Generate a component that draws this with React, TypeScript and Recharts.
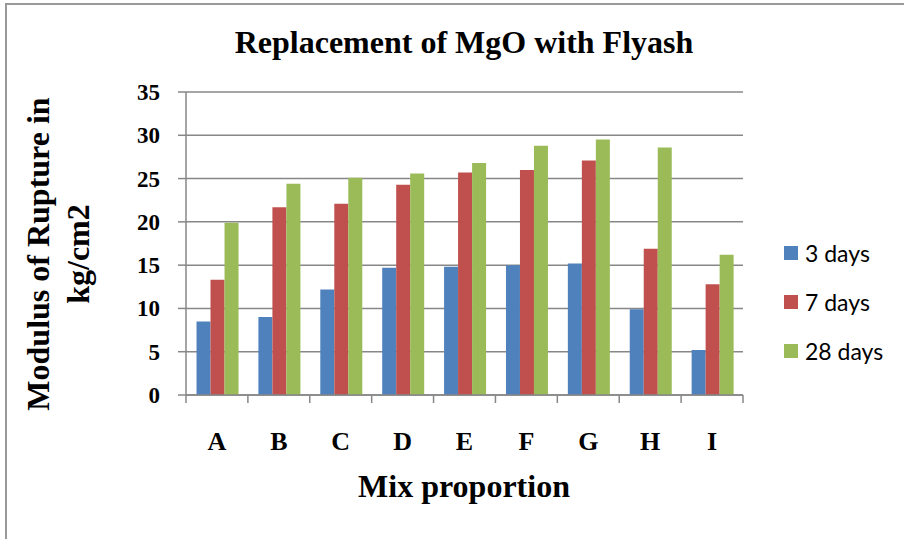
import React from "react";
import { BarChart, Bar, XAxis, YAxis, CartesianGrid } from "recharts";

const categories = ["A", "B", "C", "D", "E", "F", "G", "H", "I"];
const days3 = [8.5, 9.0, 12.2, 14.7, 14.8, 15.0, 15.2, 9.9, 5.2];
const days7 = [13.3, 21.7, 22.1, 24.3, 25.7, 26.0, 27.1, 16.9, 12.8];
const days28 = [19.9, 24.4, 25.1, 25.6, 26.8, 28.8, 29.5, 28.6, 16.2];
const yTicks = [0, 5, 10, 15, 20, 25, 30, 35];

const seriesInfo = [
  { key: "d3", name: "3 days", color: "#4F81BD" },
  { key: "d7", name: "7 days", color: "#C0504D" },
  { key: "d28", name: "28 days", color: "#9BBB59" },
];

const data = categories.map((c, i) => ({ mix: c, d3: days3[i], d7: days7[i], d28: days28[i] }));

const serif = "'Liberation Serif', 'Times New Roman', serif";
const gridColor = "#878787";

// category label plus Excel-style tick marks between categories
function XTick(props: any) {
  const { x, y, payload, index, visibleTicksCount, width } = props;
  const half = payload && payload.offset ? payload.offset : width / visibleTicksCount / 2;
  const last = index === visibleTicksCount - 1;
  return (
    <g>
      <line x1={x - half} x2={x - half} y1={y} y2={y + 8} stroke={gridColor} strokeWidth={1.5} />
      {last && <line x1={x + half} x2={x + half} y1={y} y2={y + 8} stroke={gridColor} strokeWidth={1.5} />}
      <text x={x} y={y + 55} textAnchor="middle" fontFamily={serif} fontWeight="bold" fontSize={26} fill="#000">
        {payload.value}
      </text>
    </g>
  );
}

function YTick(props: any) {
  const { x, y, payload } = props;
  return (
    <text x={x} y={y + 8} textAnchor="end" fontFamily={serif} fontWeight="bold" fontSize={23} fill="#000">
      {payload.value}
    </text>
  );
}

export default function App() {
  return (
    <div style={{ position: "absolute", left: 0, top: 0, width: 904, height: 539, background: "#fff", overflow: "hidden" }}>
      <div style={{ position: "absolute", left: 5, top: 3, width: 1000, height: 1000, borderLeft: "2px solid #999", borderTop: "2px solid #999" }} />
      <BarChart
        width={904}
        height={539}
        data={data}
        margin={{ top: 92, right: 161, left: 0, bottom: 0 }}
        barCategoryGap="17%"
        barGap={0}
      >
        <CartesianGrid vertical={false} stroke={gridColor} strokeWidth={1.5} />
        <XAxis
          dataKey="mix"
          tick={<XTick />}
          interval={0}
          tickLine={false}
          tickSize={0}
          tickMargin={0}
          axisLine={{ stroke: gridColor, strokeWidth: 1.5 }}
          height={144}
        />
        <YAxis
          domain={[0, 35]}
          ticks={yTicks}
          interval={0}
          width={186}
          tick={<YTick />}
          tickSize={8}
          tickMargin={18}
          tickLine={{ stroke: gridColor, strokeWidth: 1.5 }}
          axisLine={{ stroke: gridColor, strokeWidth: 1.5 }}
        />
        {seriesInfo.map((s) => (
          <Bar key={s.key} dataKey={s.key} name={s.name} fill={s.color} isAnimationActive={false} />
        ))}
      </BarChart>
      <div style={{ position: "absolute", left: 784, top: 228, fontFamily: "Lato, 'Open Sans', sans-serif", fontSize: 23, color: "#000" }}>
        {seriesInfo.map((s) => (
          <div key={s.key} style={{ display: "flex", alignItems: "center", height: 49 }}>
            <span style={{ width: 14, height: 14, background: s.color, marginRight: 7, display: "inline-block" }} />
            <span>{s.name}</span>
          </div>
        ))}
      </div>
      <div style={{ position: "absolute", left: 0, top: 24, width: 928, textAlign: "center", fontFamily: serif, fontWeight: "bold", fontSize: 32 }}>
        Replacement of MgO with Flyash
      </div>
      <div style={{ position: "absolute", left: 0, top: 468, width: 928, textAlign: "center", fontFamily: serif, fontWeight: "bold", fontSize: 32 }}>
        Mix proportion
      </div>
      <div
        style={{
          position: "absolute",
          left: 58 - 200,
          top: 254 - 40,
          width: 400,
          height: 80,
          transform: "rotate(-90deg)",
          textAlign: "center",
          fontFamily: serif,
          fontWeight: "bold",
          fontSize: 32,
          lineHeight: "40px",
        }}
      >
        Modulus of Rupture in
        <br />
        kg/cm2
      </div>
    </div>
  );
}
